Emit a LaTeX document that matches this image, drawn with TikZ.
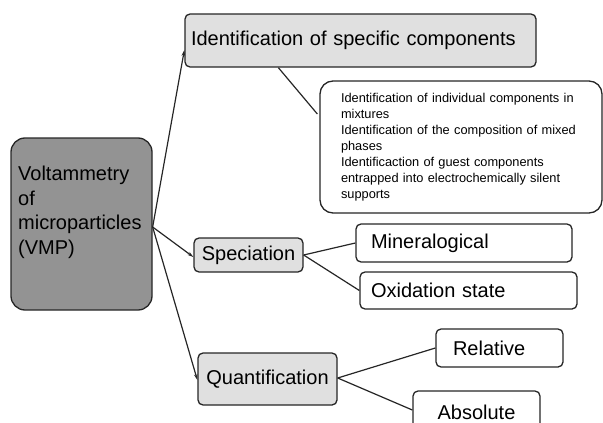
\documentclass[tikz,border=0pt]{standalone}
\usepackage{fontspec}
\setmainfont{Liberation Sans}
\usetikzlibrary{arrows.meta}
\definecolor{darkbox}{HTML}{939393}
\definecolor{lightbox}{HTML}{E0E0E0}
\definecolor{edgec}{HTML}{262626}
\begin{document}
\begin{tikzpicture}[x=1pt,y=-1pt,
  box/.style={draw=edgec, line width=1.3pt, rounded corners=5pt, inner sep=0pt,
    font=\fontsize{20}{24}\selectfont},
  graybox/.style={box, fill=lightbox},
  whitebox/.style={box, fill=white},
  conn/.style={draw=edgec, line width=1.2pt},
  arr/.style={conn, -{Stealth[length=6pt,width=3.5pt]}}
]
\useasboundingbox (0,0) rectangle (603,423);

% main box
\node[box, fill=darkbox, rounded corners=14pt, minimum width=141pt, minimum height=172pt] (vmp) at (81.5,224) {};
\node[anchor=north west, inner sep=0pt, align=left, font=\fontsize{20}{24.5}\selectfont] (vmplabel) at (18,166)
  {Voltammetry\\of\\microparticles\\(VMP)};

% level 1
\node[graybox, minimum width=351pt, minimum height=53pt, text width=339pt, inner xsep=6pt, align=left] (top) at (360.5,40.5)
  {Identification of specific components};
\node[graybox, minimum width=109pt, minimum height=34pt, align=center] (spec) at (248.5,255) {Speciation};
\node[graybox, minimum width=139pt, minimum height=52pt, align=center] (quant) at (267.5,379) {Quantification};

% callout
\node[whitebox, rounded corners=13pt, minimum width=282pt, minimum height=132pt, text width=240pt, align=left,
  font=\fontsize{12.8}{16}\selectfont] (call) at (461,147)
  {Identification of individual components in\\mixtures\\Identification of the composition of mixed\\phases\\Identificaction of guest components\\entrapped into electrochemically silent\\supports};

% level 2
\node[whitebox, minimum width=216pt, minimum height=38pt, text width=186pt, inner xsep=15pt, align=left] (min) at (464,243) {Mineralogical};
\node[whitebox, minimum width=217pt, minimum height=37pt, text width=195pt, inner xsep=11pt, align=left] (ox) at (468.5,290.5) {Oxidation state};
\node[whitebox, minimum width=127pt, minimum height=38pt, text width=93pt, inner xsep=17pt, align=left] (rel) at (499.5,348) {Relative};
\node[whitebox, minimum width=127pt, minimum height=42pt, align=center] (abs) at (476.5,412) {Absolute};

% connectors
\draw[arr] ([yshift=-3pt]vmp.east) -- ([yshift=-9.5pt]top.west);
\draw[arr] ([yshift=-3pt]vmp.east) -- ([yshift=-2pt]spec.west);
\draw[arr] ([yshift=-3pt]vmp.east) -- ([yshift=-1pt]quant.west);
\draw[conn] ([xshift=94pt]top.south west) -- ([xshift=-2pt,yshift=33pt]call.west);
\draw[conn] (spec.east) -- (min.west);
\draw[conn] (spec.east) -- (ox.west);
\draw[conn] ([yshift=1pt]quant.east) -- (rel.west);
\draw[conn] ([yshift=1pt]quant.east) -- ([yshift=2pt]abs.west);
\end{tikzpicture}
\end{document}
